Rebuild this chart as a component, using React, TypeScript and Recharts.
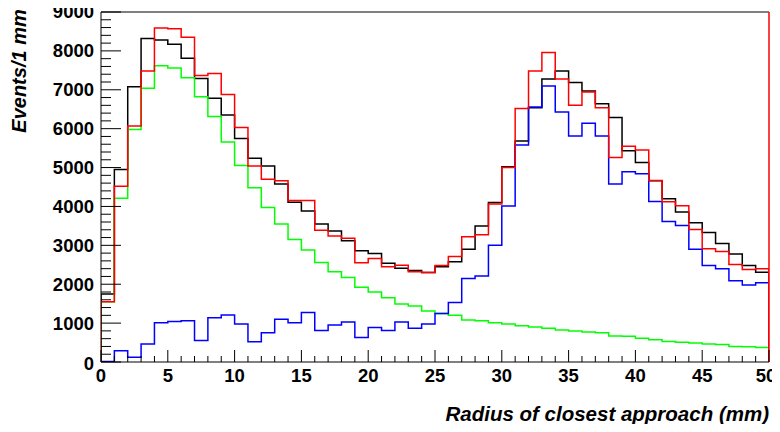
import React from 'react';
import {
  ComposedChart,
  Line,
  XAxis,
  YAxis,
  ReferenceLine,
} from 'recharts';

// Events per 1 mm bin, bins 0-1 ... 49-50 mm
const blackCounts = [
  1750, 4950, 7080, 8320, 8280, 8170, 7810, 7290, 6780, 6350,
  5750, 5240, 5040, 4580, 4110, 3880, 3550, 3370, 3120, 2860,
  2790, 2540, 2410, 2350, 2300, 2450, 2580, 2900, 3500, 4100,
  5020, 5680, 6540, 7280, 7480, 7190, 6970, 6640, 6290, 5430,
  5130, 4660, 4200, 3860, 3580, 3330, 3050, 2780, 2480, 2310,
];
const redCounts = [
  1550, 4520, 6070, 7480, 8590, 8570, 8350, 7370, 7420, 6880,
  6030, 5040, 4700, 4660, 4150, 4150, 3390, 3240, 3180, 2550,
  2660, 2450, 2490, 2320, 2300, 2480, 2710, 3220, 3270, 4060,
  5000, 6520, 7480, 7960, 7280, 6600, 6940, 6540, 5260, 5550,
  5450, 4670, 4120, 4020, 3410, 2910, 2840, 2510, 2380, 2400,
];
const greenCounts = [
  1550, 4210, 5980, 7040, 7620, 7560, 7310, 6820, 6310, 5660,
  5050, 4480, 3970, 3550, 3150, 2880, 2560, 2320, 2170, 1920,
  1800, 1650, 1490, 1440, 1310, 1250, 1200, 1080, 1060, 1010,
  980, 930, 900, 870, 820, 800, 770, 750, 670, 660,
  610, 570, 530, 510, 490, 460, 450, 400, 390, 370,
];
const blueCounts = [
  10, 290, 120, 460, 1010, 1040, 1060, 550, 1140, 1210,
  980, 520, 750, 1100, 1010, 1270, 810, 950, 1030, 630,
  890, 810, 1030, 870, 980, 1250, 1530, 2150, 2210, 3000,
  4010, 5580, 6560, 7100, 6430, 5810, 6140, 5810, 4580, 4890,
  4840, 4130, 3610, 3510, 2900, 2480, 2400, 2090, 1980, 2040,
];

const xTicks = Array.from({ length: 51 }, (_, i) => i);
const yTicks = Array.from({ length: 46 }, (_, i) => i * 200);

const FONT = '"Liberation Sans", Arial, Helvetica, sans-serif';

// histogram outline: up from baseline at 0, steps, down to baseline at 50
const toSteps = (vals: number[]) => [
  { x: 0, y: 0 },
  ...vals.map((v, i) => ({ x: i, y: v })),
  { x: vals.length, y: vals[vals.length - 1] },
  { x: vals.length, y: 0 },
];

const series = [
  { key: 'black', color: '#000000', data: toSteps(blackCounts) },
  { key: 'green', color: '#00ff00', data: toSteps(greenCounts) },
  { key: 'blue', color: '#0000ff', data: toSteps(blueCounts) },
  { key: 'red', color: '#ff0000', data: toSteps(redCounts) },
];

const XTick = (props: any) => {
  const { x, y, payload } = props;
  const major = payload.value % 5 === 0;
  const last = payload.value === 50;
  return (
    <g>
      <line x1={x} x2={x} y1={y} y2={y - (major ? 12 : 6)} stroke="#000" strokeWidth={1} />
      {major && (
        <text
          x={last ? x - 3 : x}
          y={y + 20}
          textAnchor="middle"
          fontFamily={FONT}
          fontWeight="bold"
          fontSize={18.5}
          fill="#000"
        >
          {payload.value}
        </text>
      )}
    </g>
  );
};

const YTick = (props: any) => {
  const { x, y, payload } = props;
  const major = payload.value % 1000 === 0;
  return (
    <g>
      <line x1={x} x2={x + (major ? 20 : 10)} y1={y} y2={y} stroke="#000" strokeWidth={1} />
      {major && (
        <text
          x={x - 7}
          y={payload.value === 0 ? y + 2 : y}
          dy="0.35em"
          textAnchor="end"
          fontFamily={FONT}
          fontWeight="bold"
          fontSize={18.5}
          fill="#000"
        >
          {payload.value}
        </text>
      )}
    </g>
  );
};

export default function App() {
  return (
    <div style={{ width: 780, height: 432, margin: -8, background: '#fff' }}>
      <ComposedChart
        width={780}
        height={432}
        margin={{ top: 12, right: 11, left: 41, bottom: 40 }}
        style={{ overflow: 'visible' }}
      >
        <XAxis
          type="number"
          dataKey="x"
          domain={[0, 50]}
          ticks={xTicks}
          interval={0}
          tickSize={0}
          tickMargin={0}
          tickLine={false}
          tick={<XTick />}
          height={30}
          axisLine={{ stroke: '#000', strokeWidth: 1 }}
          allowDataOverflow
        />
        <YAxis
          type="number"
          dataKey="y"
          domain={[0, 9000]}
          ticks={yTicks}
          interval={0}
          tickSize={0}
          tickMargin={0}
          tickLine={false}
          tick={<YTick />}
          width={60}
          axisLine={{ stroke: '#000', strokeWidth: 1 }}
          allowDataOverflow
        />
        <ReferenceLine y={9000} stroke="#000" strokeWidth={1} />
        {series.map((s) => (
          <Line
            key={s.key}
            data={s.data}
            dataKey="y"
            type="stepAfter"
            stroke={s.color}
            strokeWidth={1.5}
            dot={false}
            activeDot={false}
            isAnimationActive={false}
          />
        ))}
        <ReferenceLine x={50} stroke="#ff0000" strokeWidth={1.5} />
        <text
          transform="translate(19, 71) rotate(-90)"
          textAnchor="middle"
          dy="0.35em"
          fontFamily={FONT}
          fontWeight="bold"
          fontStyle="italic"
          fontSize={20}
          fill="#000"
        >
          Events/1 mm
        </text>
        <text
          x={769}
          y={414}
          textAnchor="end"
          dy="0.35em"
          fontFamily={FONT}
          fontWeight="bold"
          fontStyle="italic"
          fontSize={20.5}
          fill="#000"
        >
          Radius of closest approach (mm)
        </text>
      </ComposedChart>
    </div>
  );
}
